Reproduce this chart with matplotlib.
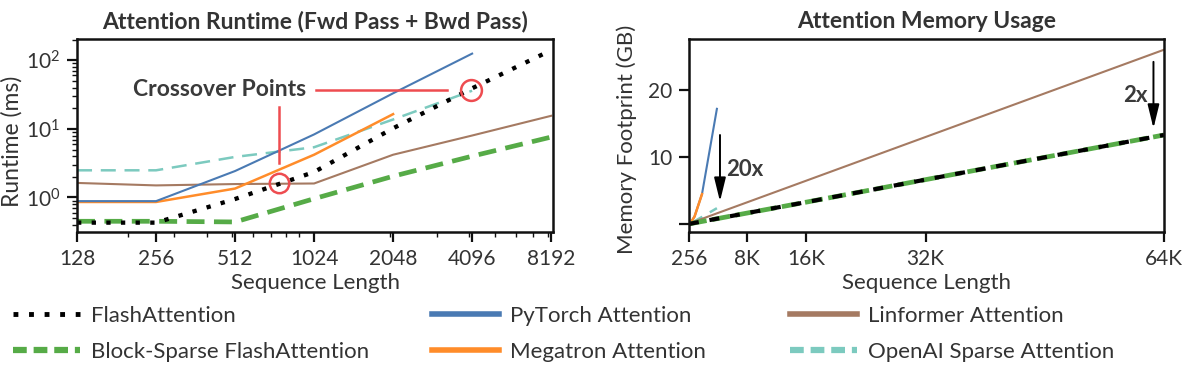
import numpy as np
import matplotlib
matplotlib.use('Agg')
import matplotlib.pyplot as plt
from matplotlib.lines import Line2D
from matplotlib.ticker import LogLocator, NullFormatter, FixedLocator

plt.rcParams['font.family'] = ['Lato', 'DejaVu Sans']
plt.rcParams['text.color'] = '#333333'
plt.rcParams['axes.labelcolor'] = '#333333'
plt.rcParams['xtick.color'] = '#111111'
plt.rcParams['ytick.color'] = '#111111'
plt.rcParams['xtick.labelcolor'] = '#333333'
plt.rcParams['ytick.labelcolor'] = '#333333'

# runtime (ms), fwd + bwd
seq_rt = [128, 256, 512, 1024, 2048, 4096, 8192]
flash_rt = [0.43, 0.43, 0.95, 2.35, 10.2, 39, 140]
block_rt = [0.45, 0.45, 0.44, 0.96, 2.04, 4.0, 7.6]
pytorch_rt = [0.885, 0.885, 2.43, 8.3, 33, 125]
megatron_rt = [0.86, 0.86, 1.35, 4.2, 16.4]
linformer_rt = [1.63, 1.5, 1.57, 1.6, 4.2, 8.0, 15.5]
openai_rt = [2.49, 2.49, 3.9, 5.4, 13.7, 36]
rt_ticks = [128, 256, 512, 1024, 2048, 4096, 8192]

# memory footprint (GB)
seq_mem = [256, 512, 1024, 2048, 4096, 8192, 16384, 32768, 65536]
flash_mem = [0.05, 0.1, 0.21, 0.42, 0.83, 1.66, 3.3, 6.65, 13.3]
block_mem = [0.05, 0.1, 0.21, 0.42, 0.83, 1.66, 3.3, 6.65, 13.3]
pytorch_mem = [0.07, 0.29, 1.15, 4.5, 17.2]
megatron_mem = [0.07, 0.29, 1.15, 4.5]
linformer_mem = [0.1, 0.2, 0.41, 0.81, 1.63, 3.25, 6.5, 13, 26]
openai_mem = [0.1, 0.2, 0.45, 1.1, 2.4]
mem_ticks = [256, 8192, 16384, 32768, 65536]
mem_ticklabels = ['256', '8K', '16K', '32K', '64K']

c_flash = 'black'
c_block = '#56ab47'
c_pytorch = '#4a7ab3'
c_megatron = '#ff8c2a'
c_linformer = '#a57a62'
c_openai = '#7ccabf'
c_red = '#ee4c50'

fig = plt.figure(figsize=(11.85, 3.66), dpi=100)
ax1 = fig.add_axes([0.065, 0.3661, 0.4017, 0.5273])
ax2 = fig.add_axes([0.5814, 0.3661, 0.4008, 0.5273])

ax1.plot(seq_rt[:len(openai_rt)], openai_rt, color=c_openai, lw=1.8, ls=(0, (6, 3.5)))
ax1.plot(seq_rt, linformer_rt, color=c_linformer, lw=1.5)
ax1.plot(seq_rt[:len(megatron_rt)], megatron_rt, color=c_megatron, lw=1.8)
ax1.plot(seq_rt[:len(pytorch_rt)], pytorch_rt, color=c_pytorch, lw=1.5)
ax1.plot(seq_rt, block_rt, color=c_block, lw=3.4, ls=(0, (3.8, 2.0)))
ax1.plot(seq_rt, flash_rt, color=c_flash, lw=3.1, ls=(0, (1, 2.4)))

ax1.set_xscale('log', base=2)
ax1.set_yscale('log')
ax1.set_xlim(128, 8330)
ax1.set_ylim(0.314, 204)
ax1.xaxis.set_major_locator(FixedLocator(rt_ticks))
ax1.set_xticklabels([str(t) for t in rt_ticks])
ax1.xaxis.set_minor_locator(LogLocator(base=10, subs=np.arange(2, 10)))
ax1.xaxis.set_minor_formatter(NullFormatter())

# crossover annotations
ax1.plot([755], [1.63], 'o', ms=14, mfc='none', mec=c_red, mew=1.8)
ax1.plot([4040], [36.5], 'o', ms=15, mfc='none', mec=c_red, mew=1.8)
ax1.plot([754, 754], [3.14, 21], color=c_red, lw=1.8)
ax1.plot([1042, 3292], [36.7, 36.7], color=c_red, lw=1.8)
ax1.text(448, 37.5, 'Crossover Points', ha='center', va='center',
         fontsize=16.5, fontweight='bold', color='#3a3a3a')

ax1.set_title('Attention Runtime (Fwd Pass + Bwd Pass)', fontsize=16.5,
              fontweight='bold', pad=8)
ax1.set_xlabel('Sequence Length', fontsize=16)
ax1.set_ylabel('Runtime (ms)', fontsize=16.5)
ax1.yaxis.set_label_coords(-0.115, 0.47)
ax1.xaxis.set_label_coords(0.5, -0.21)

# memory
ax2.plot(seq_mem[:len(openai_mem)], openai_mem, color=c_openai, lw=1.8, ls=(0, (6, 3.5)))
ax2.plot(seq_mem, linformer_mem, color=c_linformer, lw=1.5)
ax2.plot(seq_mem[:len(pytorch_mem)], pytorch_mem, color=c_pytorch, lw=1.5)
ax2.plot(seq_mem[:len(megatron_mem)], megatron_mem, color=c_megatron, lw=1.8)
ax2.plot(seq_mem, block_mem, color=c_block, lw=3.4, ls=(0, (3.8, 1.2)))
ax2.plot(seq_mem, flash_mem, color=c_flash, lw=3.0, ls=(0, (2.4, 2.6)))

ax2.set_xlim(256, 65536)
ax2.set_ylim(-1.15, 27.6)
ax2.set_xticks(mem_ticks)
ax2.set_xticklabels(mem_ticklabels)
ax2.set_yticks([0, 10, 20])
ax2.set_yticklabels(['', '10', '20'])

arrow = dict(arrowstyle='-|>,head_width=0.22,head_length=0.9', color='black',
             lw=1.4, mutation_scale=16, shrinkA=0, shrinkB=0)
ax2.annotate('', xy=(4520, 3.4), xytext=(4520, 13.3), arrowprops=arrow)
ax2.annotate('', xy=(64100, 14.3), xytext=(64100, 24.2), arrowprops=arrow)
ax2.text(5344, 8.2, '20x', ha='left', va='center', fontsize=16,
         fontweight='bold', color='#3a3a3a')
ax2.text(63235, 19.2, '2x', ha='right', va='center', fontsize=16,
         fontweight='bold', color='#3a3a3a')

ax2.set_title('Attention Memory Usage', fontsize=16.5, fontweight='bold', pad=8)
ax2.set_xlabel('Sequence Length', fontsize=16)
ax2.set_ylabel('Memory Footprint (GB)', fontsize=16)
ax2.yaxis.set_label_coords(-0.11, 0.48)
ax2.xaxis.set_label_coords(0.5, -0.21)

for ax in (ax1, ax2):
    for s in ax.spines.values():
        s.set_linewidth(1.8)
        s.set_color('#111111')
    ax.tick_params(which='major', direction='out', length=7, width=1.6,
                   labelsize=15, pad=5)
    ax.tick_params(which='minor', direction='out', length=3.5, width=1.0)

# legend, three columns placed separately
h_flash = Line2D([], [], color=c_flash, lw=3.5, ls=(0, (1, 2.2)), label='FlashAttention')
h_block = Line2D([], [], color=c_block, lw=4.5, ls=(0, (2.2, 1.1)), label='Block-Sparse FlashAttention')
h_pytorch = Line2D([], [], color=c_pytorch, lw=4, label='PyTorch Attention')
h_megatron = Line2D([], [], color=c_megatron, lw=4, label='Megatron Attention')
h_linformer = Line2D([], [], color=c_linformer, lw=4, label='Linformer Attention')
h_openai = Line2D([], [], color=c_openai, lw=4.5, ls=(0, (2.2, 1.1)), label='OpenAI Sparse Attention')

cols = [([h_flash, h_block], 0.011), ([h_pytorch, h_megatron], 0.3646),
        ([h_linformer, h_openai], 0.6667)]
for hs, x in cols:
    fig.legend(handles=hs, loc='upper left', bbox_to_anchor=(x, 0.165),
               frameon=False, fontsize=16, handlelength=3.0, handletextpad=0.5,
               labelspacing=0.72, borderpad=0, borderaxespad=0)

fig.savefig('out.png', dpi=100)
